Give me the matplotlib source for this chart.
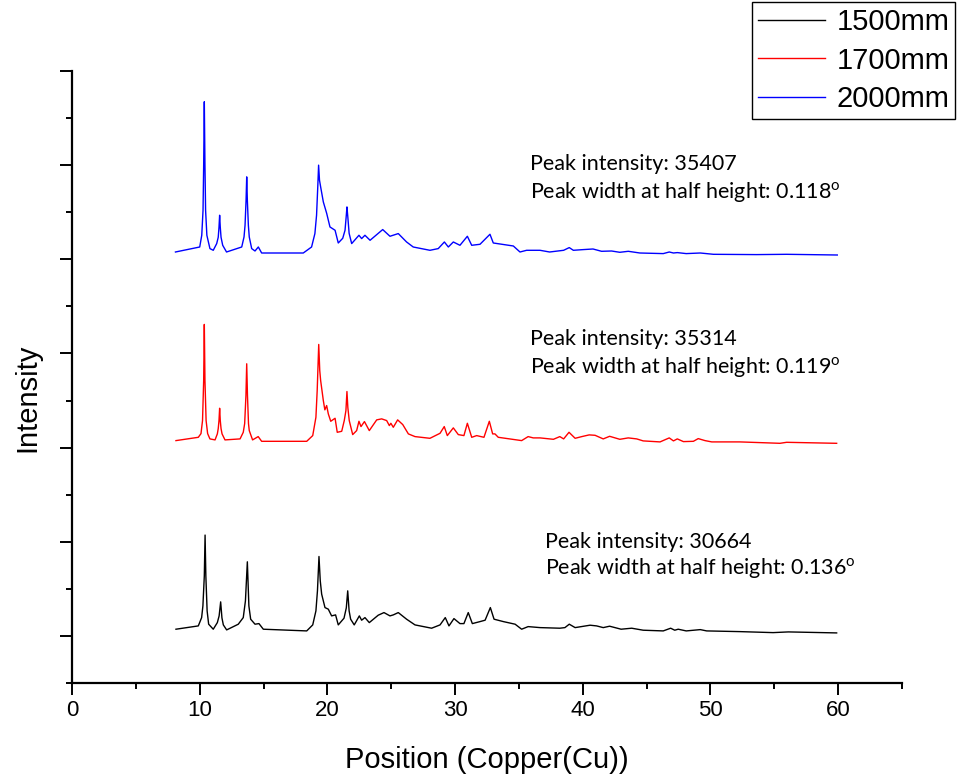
import matplotlib
matplotlib.use("Agg")
import matplotlib.pyplot as plt
from matplotlib.ticker import MultipleLocator, NullFormatter

plt.rcParams['mathtext.fontset'] = 'custom'
plt.rcParams['mathtext.rm'] = 'Lato'

# ---------------- data (arbitrary intensity units, offset patterns) ----------------
labels = ["1500mm", "1700mm", "2000mm"]
colors = ["black", "red", "blue"]

x_1500 = [8.14, 9.89, 10.15, 10.25, 10.36, 10.42, 10.48, 10.58, 10.7, 11.06, 11.38, 11.52,
          11.64, 11.74, 11.85, 12.11, 13.02, 13.41, 13.58, 13.73, 13.85, 13.99, 14.33, 14.64,
          14.98, 18.38, 18.85, 19.1, 19.22, 19.34, 19.44, 19.55, 19.81, 20.07, 20.33, 20.64,
          20.85, 21.3, 21.48, 21.59, 21.7, 21.82, 22.1, 22.5, 22.68, 22.94, 23.28, 23.98,
          24.43, 24.9, 25.16, 25.55, 26.2, 26.86, 28.16, 28.82, 29.23, 29.52, 29.91, 30.38,
          30.69, 31.03, 31.35, 31.95, 32.35, 32.76, 33.05, 33.78, 34.7, 35.21, 35.72, 36.65,
          38.2, 38.6, 38.94, 39.4, 40.57, 41.08, 41.6, 42.1, 43.0, 43.83, 44.73, 46.3, 46.88,
          47.2, 47.47, 48.1, 49.2, 49.7, 52.3, 54.9, 56.1, 59.88]
y_1500 = [6.7, 10, 18.3, 30, 60, 100.7, 60, 25, 11.7, 6.7, 13.3, 20,
          34, 18, 11, 6, 11.7, 18.3, 35, 74, 30, 16.7, 11.7, 12.3,
          6.7, 5, 11, 25, 45, 79.3, 55, 41.7, 28.3, 26.7, 20, 21,
          11, 17.7, 28, 45, 25, 16.7, 11, 20, 15.7, 18.3, 13.3, 20.7,
          23.3, 20, 21, 23.3, 16.7, 11, 7.7, 11, 18.3, 10, 17.3, 12.3,
          12.3, 23.3, 12.3, 14.3, 15.7, 28.3, 16.7, 14.3, 11.7, 6.7, 9.3, 8.3,
          7.7, 8.3, 11.7, 8.3, 10.7, 10, 8.3, 9.7, 6.7, 7.7, 5.7, 5, 7.7,
          5.7, 6.7, 5, 6.3, 5, 4.3, 3.3, 4, 3]

x_1700 = [8.14, 9.89, 10.1, 10.22, 10.31, 10.36, 10.41, 10.5, 10.62, 10.8, 11.2, 11.38,
          11.45, 11.51, 11.56, 11.61, 11.67, 11.75, 11.98, 13.16, 13.41, 13.52, 13.62, 13.68,
          13.74, 13.82, 13.88, 14.14, 14.58, 14.85, 18.38, 18.85, 19.1, 19.2, 19.32, 19.4,
          19.47, 19.68, 19.8, 19.94, 20.07, 20.26, 20.6, 20.77, 21.12, 21.32, 21.45, 21.53,
          21.6, 21.71, 21.98, 22.29, 22.47, 22.63, 22.9, 23.28, 23.86, 24.25, 24.64, 24.85,
          24.97, 25.16, 25.5, 25.9, 26.34, 26.86, 28.03, 28.82, 29.15, 29.39, 29.86, 30.25,
          30.69, 30.96, 31.3, 31.69, 32.26, 32.68, 32.94, 33.12, 33.38, 35.21, 35.72, 36.12,
          36.65, 37.7, 38.2, 38.5, 38.92, 39.4, 39.92, 40.5, 40.96, 41.6, 42.1, 42.9,
          43.56, 44.22, 44.73, 46.05, 46.77, 47.1, 47.4, 47.88, 48.66, 49.04, 49.57, 50.1,
          52.3, 53.87, 55.44, 55.96, 59.88]
y_1700 = [195, 198.3, 202, 215, 255, 311, 255, 215, 202, 196.7, 195.7, 201.7,
          207, 215, 227.3, 215, 207, 201.7, 195.7, 196.7, 203.3, 212, 240, 271.7,
          240, 212, 205, 195.7, 199, 194.3, 194.3, 200, 218.3, 245, 291, 265,
          255, 235, 225.7, 230, 221.7, 214.3, 217.3, 203.3, 204.3, 215, 225, 244,
          228, 215, 201, 205, 214.3, 209, 214, 205, 215.7, 216.7, 215, 210,
          212.3, 208.3, 215.7, 211, 201.7, 199, 197.3, 202.3, 209, 200, 207.7, 201,
          200, 212.3, 198.3, 200, 198.3, 214.3, 201.7, 201.7, 198.3, 195, 199, 197.7,
          197.7, 196.3, 199, 196.7, 203.3, 197.3, 199, 200.7, 200.3, 196.7, 199.3, 196.3,
          197.7, 196.7, 194.7, 193.7, 197.7, 194.7, 196.7, 194, 194.3, 197, 195, 193.7,
          193.7, 193, 192.3, 193.3, 192.3]

x_2000 = [8.1, 10.0, 10.16, 10.26, 10.31, 10.36, 10.41, 10.46, 10.56, 10.8, 11.06, 11.33,
          11.45, 11.51, 11.56, 11.61, 11.67, 11.8, 12.1, 13.29, 13.47, 13.55, 13.63, 13.68,
          13.73, 13.81, 13.88, 14.07, 14.33, 14.59, 14.85, 18.11, 18.76, 19.02, 19.15, 19.25,
          19.31, 19.38, 19.47, 19.68, 19.94, 20.2, 20.6, 20.85, 21.2, 21.38, 21.48, 21.53,
          21.6, 21.7, 21.9, 22.47, 22.68, 22.94, 23.34, 24.33, 24.9, 25.55, 26.2, 26.72,
          28.03, 28.68, 29.16, 29.47, 29.86, 30.38, 30.96, 31.3, 31.95, 32.73, 32.99, 34.56,
          35.08, 35.6, 36.65, 37.4, 38.5, 38.94, 39.26, 40.04, 40.8, 41.47, 42.25, 42.9,
          43.56, 44.47, 46.3, 46.77, 47.1, 47.4, 48.1, 49.2, 50.23, 53.6, 55.96, 59.93]
y_2000 = [383.3, 388.3, 400, 425, 470, 533.3, 470, 425, 400, 386.7, 385, 391.7,
          398, 408, 420, 408, 398, 390, 383.3, 388.3, 398.3, 410, 435, 458.3,
          435, 410, 398.3, 386.7, 384.3, 388.3, 382.3, 382.3, 388.3, 401.7, 420, 450,
          470, 455, 448.3, 433.3, 422, 408.3, 405, 392.3, 397, 405, 420, 428.3,
          418, 402, 391.7, 400, 396.7, 400, 395, 405.7, 399, 401.7, 393.3, 388.3,
          385, 386.7, 393.3, 388.3, 393.3, 390, 399, 390, 391, 401, 392.3, 389.3,
          383.3, 385, 385, 383.3, 385, 387.7, 385, 385.7, 386.3, 384, 384.3, 383,
          384, 382.3, 381.7, 383.3, 382.3, 382.7, 381.7, 382.3, 381, 380.7, 381, 380.3]

notes_1500 = ["Peak intensity: 30664", "Peak width at half height: 0.136$^\\mathrm{o}$"]
notes_1700 = ["Peak intensity: 35314", "Peak width at half height: 0.119$^\\mathrm{o}$"]
notes_2000 = ["Peak intensity: 35407", "Peak width at half height: 0.118$^\\mathrm{o}$"]

x_ticks = [0, 10, 20, 30, 40, 50, 60]

# ---------------- figure ----------------
fig = plt.figure(figsize=(9.59, 7.82), dpi=100)
ax = fig.add_axes([0.0751, 0.1266, 0.8655, 0.7826])

series = [(x_1500, y_1500), (x_1700, y_1700), (x_2000, y_2000)]
for (xs, ys), lab, col in zip(series, labels, colors):
    ax.plot(xs, ys, color=col, lw=1.0, label=lab)

ax.set_xlim(0, 65)
ax.set_ylim(-47, 564)
ax.set_xticks(x_ticks)
ax.xaxis.set_minor_locator(MultipleLocator(5))
ax.yaxis.set_major_locator(MultipleLocator(94))
ax.yaxis.set_minor_locator(MultipleLocator(47))
ax.yaxis.set_major_formatter(NullFormatter())

for s in ['top', 'right']:
    ax.spines[s].set_visible(False)
for s in ['left', 'bottom']:
    ax.spines[s].set_linewidth(1.6)

ax.tick_params(which='major', direction='out', length=8.5, width=1.4,
               labelsize=16, pad=4)
ax.tick_params(which='minor', direction='out', length=4.5, width=1.4)
for lbl in ax.get_xticklabels():
    lbl.set_fontfamily('Liberation Sans')

ax.set_xlabel("Position (Copper(Cu))", fontsize=21, family='Liberation Sans')
ax.set_ylabel("Intensity", fontsize=21, family='Liberation Sans')
ax.xaxis.set_label_coords(0.5, -0.103)
ax.yaxis.set_label_coords(-0.037, 0.466)

# annotations
note_font = dict(fontsize=15.5, family='Lato', va='baseline', ha='left')
ax.text(35.87, 465, notes_2000[0], **note_font)
ax.text(35.87, 437, notes_2000[1], **note_font)
ax.text(35.87, 290, notes_1700[0], **note_font)
ax.text(35.87, 262, notes_1700[1], **note_font)
ax.text(37.04, 88, notes_1500[0], **note_font)
ax.text(37.04, 61, notes_1500[1], **note_font)

leg = fig.legend(loc='upper right', bbox_to_anchor=(0.996, 0.997),
                 prop={'family': 'Liberation Sans', 'size': 21},
                 frameon=True, fancybox=False, framealpha=1, edgecolor='black',
                 handlelength=2.3, handletextpad=0.4, labelspacing=0.36,
                 borderpad=0.2, borderaxespad=0)
leg.get_frame().set_linewidth(1.0)

fig.savefig("out.png", dpi=100)
